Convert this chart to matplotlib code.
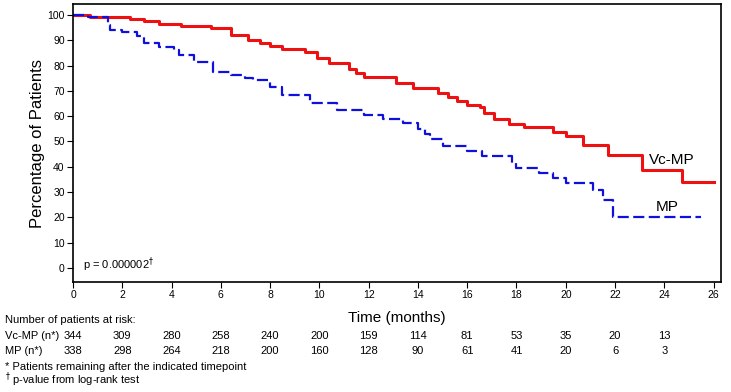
import matplotlib.pyplot as plt
from matplotlib.transforms import blended_transform_factory

plt.rcParams['font.family'] = ['Liberation Sans', 'DejaVu Sans']

# Kaplan-Meier step data (months, % patients)
vcmp_t = [0, 0.7, 2.3, 2.9, 3.5, 4.4, 5.6, 6.4, 7.1, 7.6, 8.0, 8.5, 9.4, 9.9,
          10.4, 11.2, 11.5, 11.8, 13.1, 13.8, 14.8, 15.2, 15.6, 16.0, 16.5,
          16.7, 17.1, 17.7, 18.3, 19.5, 20.0, 20.7, 21.7, 23.1, 24.7, 26.0]
vcmp_s = [100, 99, 98.3, 97.4, 96.5, 95.5, 94.7, 92, 90, 88.8, 87.7, 86.6, 85.4, 83,
          81, 78.5, 77, 75.5, 73, 71, 69, 67.6, 66, 64.4, 63.6,
          61.3, 58.9, 57, 55.7, 53.8, 52.2, 48.6, 44.7, 38.7, 34, 34]

mp_t = [0, 0.6, 1.4, 1.5, 2.0, 2.6, 2.9, 3.5, 4.1, 4.3, 4.9, 5.7, 6.4, 7.0,
        7.3, 8.0, 8.5, 9.6, 10.7, 11.8, 12.6, 13.4, 14.0, 14.3, 14.5, 15.0,
        16.0, 16.6, 17.8, 18.0, 18.9, 19.5, 20.0, 21.1, 21.5, 21.9, 25.5]
mp_s = [100, 99.3, 96, 94, 93.3, 91.5, 89, 87.5, 86, 84, 81.4, 77.5, 76.3, 75,
        74.3, 71.5, 68.4, 65.2, 62.5, 60.5, 58.9, 57.3, 55, 53, 51, 48.2,
        46.2, 44.3, 41.5, 39.4, 37.4, 35.4, 33.6, 31, 27, 20.2, 20.2]

# number at risk
risk_months = [0, 2, 4, 6, 8, 10, 12, 14, 16, 18, 20, 22, 24]
risk_vcmp = [344, 309, 280, 258, 240, 200, 159, 114, 81, 53, 35, 20, 13]
risk_mp = [338, 298, 264, 218, 200, 160, 128, 90, 61, 41, 20, 6, 3]

fig = plt.figure(figsize=(7.31, 3.92), dpi=100)
ax = fig.add_axes([0.0999, 0.2806, 0.8864, 0.7092])

ax.step(vcmp_t, vcmp_s, where='post', color='#ee1111', lw=2.2)
ax.step(mp_t, mp_s, where='post', color='#1010dd', lw=1.6,
        linestyle=(0, (5, 2)))

ax.set_xlim(0, 26.3)
ax.set_ylim(-5.5, 104.3)
ax.set_xticks(range(0, 27, 2))
ax.set_yticks(range(0, 101, 10))
ax.tick_params(direction='out', length=4, width=0.8, labelsize=7.5, pad=2)
for s in ax.spines.values():
    s.set_linewidth(1.2)

ax.set_ylabel('Percentage of Patients', fontsize=12, labelpad=2)
ax.set_xlabel('Time (months)', fontsize=11, labelpad=8)

ax.text(24.3, 42.7, 'Vc-MP', fontsize=11, ha='center', va='center')
ax.text(24.1, 24.1, 'MP', fontsize=11, ha='center', va='center')
ax.text(0.4, 1.2, 'p = 0.000002$^{\u2020}$', fontsize=8, ha='left', va='center')

# at-risk table
tr = blended_transform_factory(ax.transData, fig.transFigure)
fig.text(5/731, 1-320/392, 'Number of patients at risk:', fontsize=8, va='center')
fig.text(5/731, 1-336/392, 'Vc-MP (n*)', fontsize=8, va='center')
fig.text(5/731, 1-351/392, 'MP (n*)', fontsize=8, va='center')
for m, a, b in zip(risk_months, risk_vcmp, risk_mp):
    ax.text(m, 1-336/392, str(a), transform=tr, fontsize=8, ha='center', va='center')
    ax.text(m, 1-351/392, str(b), transform=tr, fontsize=8, ha='center', va='center')
fig.text(5/731, 1-367/392, '* Patients remaining after the indicated timepoint',
         fontsize=8, va='center')
fig.text(5/731, 1-380/392, '$^{\u2020}$ p-value from log-rank test',
         fontsize=8, va='center')

plt.savefig('out.png', dpi=100)
